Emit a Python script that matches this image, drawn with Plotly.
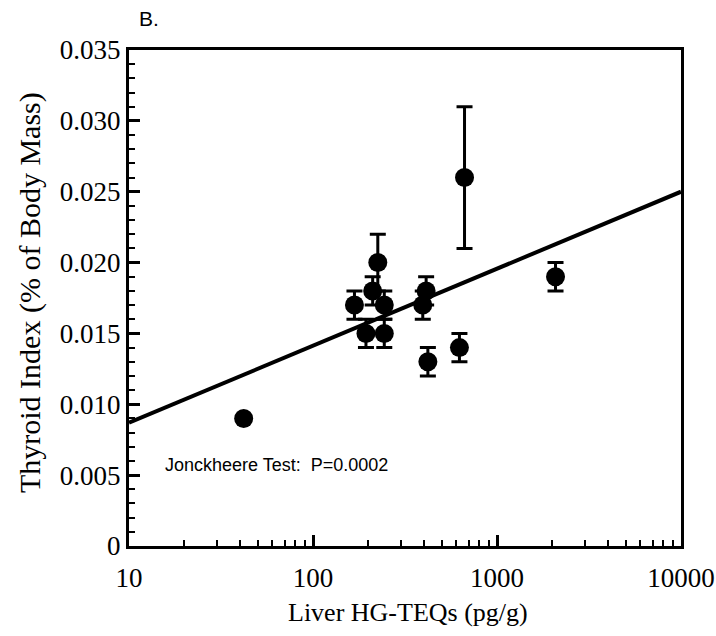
import plotly.graph_objects as go

# Data
teq = [42, 168, 194, 211, 225, 244, 244, 395, 412, 421, 625, 666, 2080]
thyroid = [0.009, 0.017, 0.015, 0.018, 0.020, 0.017, 0.015, 0.017, 0.018, 0.013, 0.014, 0.026, 0.019]
err = [0.0, 0.001, 0.001, 0.001, 0.002, 0.001, 0.001, 0.001, 0.001, 0.001, 0.001, 0.005, 0.001]

fit_x = [10, 10000]
fit_y = [0.0087, 0.0250]

y_ticks = [0, 0.005, 0.010, 0.015, 0.020, 0.025, 0.030, 0.035]
y_ticktext = ["0", "0.005", "0.010", "0.015", "0.020", "0.025", "0.030", "0.035"]
x_ticks = [10, 100, 1000, 10000]
x_ticktext = ["10", "100", "1000", "10000"]

SERIF = "Liberation Serif"
SANS = "Liberation Sans"

fig = go.Figure()
fig.add_trace(go.Scatter(
    x=fit_x, y=fit_y, mode="lines",
    line=dict(color="black", width=4), showlegend=False, hoverinfo="skip"))
fig.add_trace(go.Scatter(
    x=teq, y=thyroid, mode="markers",
    marker=dict(color="black", size=19, line=dict(width=0)),
    error_y=dict(type="data", array=err, visible=True, color="black",
                 thickness=3, width=8),
    showlegend=False))

fig.update_layout(
    width=716, height=636,
    margin=dict(l=129, r=35, t=50, b=90, autoexpand=False),
    paper_bgcolor="white", plot_bgcolor="white",
    font=dict(family=SERIF, color="black", size=27),
    xaxis=dict(
        type="log", range=[1, 4],
        tickvals=x_ticks, ticktext=x_ticktext,
        ticks="inside", ticklen=11, tickwidth=3, tickcolor="black",
        showline=True, linewidth=3, linecolor="black", mirror=True,
        showgrid=False, zeroline=False,
        tickfont=dict(family=SERIF, size=27),
        ticklabelstandoff=6, ticklabeloverflow="allow", automargin=False,
        minor=dict(ticks="inside", ticklen=6, tickwidth=2, tickcolor="black",
                   dtick="D1", showgrid=False),
    ),
    yaxis=dict(
        range=[0, 0.035],
        tickvals=y_ticks, ticktext=y_ticktext,
        ticks="inside", ticklen=11, tickwidth=3, tickcolor="black",
        showline=True, linewidth=3, linecolor="black", mirror=True,
        showgrid=False, zeroline=False,
        tickfont=dict(family=SERIF, size=27),
        ticklabeloverflow="allow", automargin=False,
        minor=dict(ticks="inside", ticklen=6, tickwidth=2, tickcolor="black",
                   dtick=0.001, showgrid=False),
    ),
    annotations=[
        dict(text="Thyroid Index (% of Body Mass)", xref="paper", yref="paper",
             x=(30 - 129) / 552, y=0.51, textangle=-90, showarrow=False,
             xanchor="center", yanchor="middle",
             font=dict(family=SERIF, size=30)),
        dict(text="Liver HG-TEQs (pg/g)", xref="paper", yref="paper",
             x=(408 - 129) / 552, y=(546 - 612) / 496, showarrow=False,
             xanchor="center", yanchor="middle",
             font=dict(family=SERIF, size=26)),
        dict(text="Jonckheere Test:  P=0.0002", xref="paper", yref="paper",
             x=(163 - 129) / 552, y=(546 - 465) / 496, showarrow=False,
             xanchor="left", yanchor="middle",
             font=dict(family=SANS, size=18)),
        dict(text="B.", xref="paper", yref="paper",
             x=(137 - 129) / 552, y=(546 - 18) / 496, showarrow=False,
             xanchor="left", yanchor="middle",
             font=dict(family=SANS, size=21)),
    ],
)

fig.write_html("out.html")
